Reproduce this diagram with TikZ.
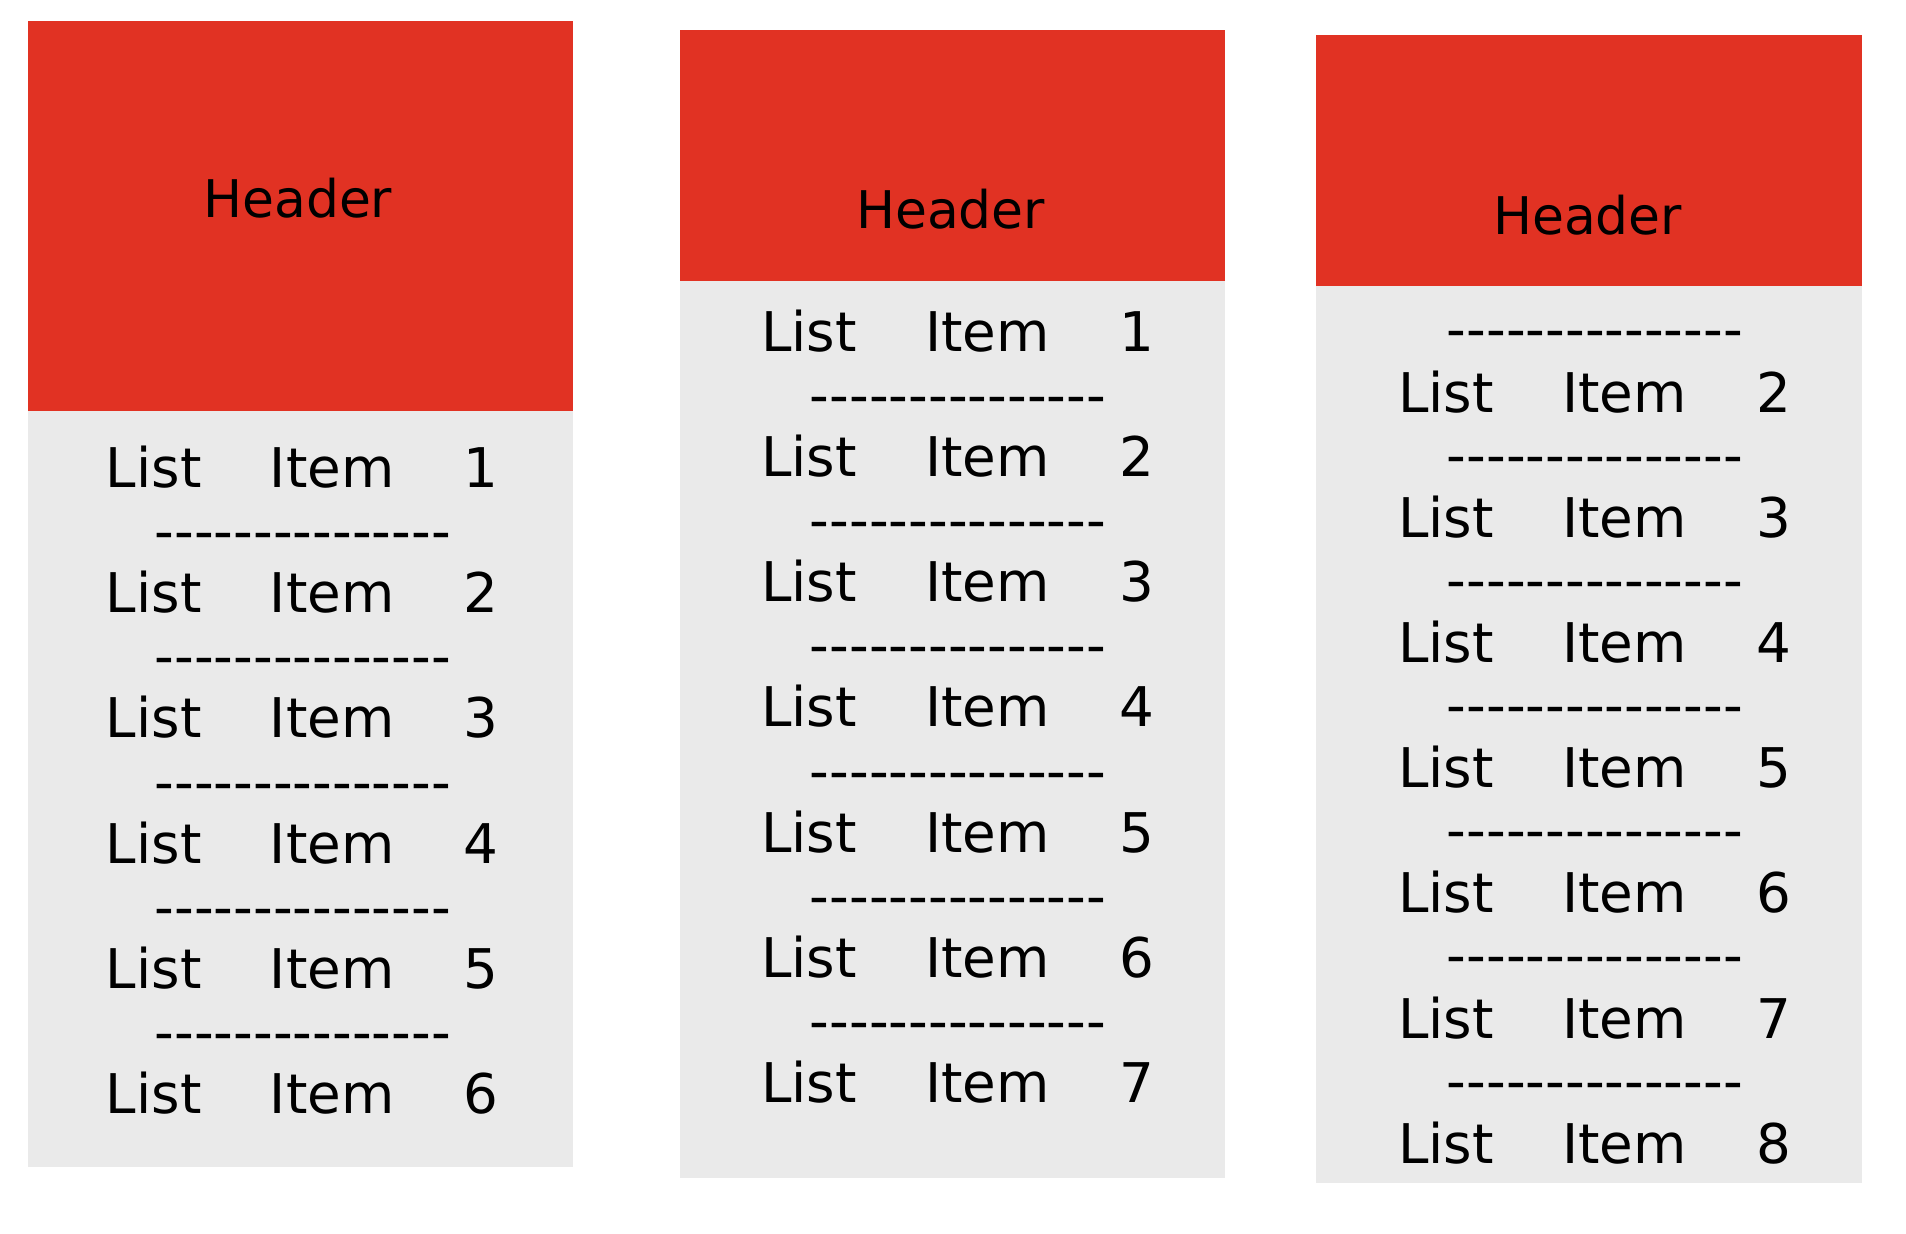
\documentclass[tikz,border=0pt]{standalone}
\usepackage{fontspec}
\setmainfont{DejaVu Sans}
\definecolor{hdrred}{RGB}{225,50,35}
\definecolor{bodygray}{RGB}{234,234,234}
\def\dh{-\kern0pt}
\newcommand\dashrow{\dh\dh\dh\dh\dh\dh\dh\dh\dh\dh\dh\dh\dh\dh\dh}
\newcommand\listitem[1]{List\hspace{1.25em}Item\hspace{1.27em}#1}
\tikzset{
  hdrtext/.style={font=\fontsize{42.7}{50}\selectfont, anchor=base, inner sep=0pt},
  itemtext/.style={font=\fontsize{45}{52}\selectfont, anchor=base west, inner sep=0pt},
  dashtext/.style={font=\fontsize{45}{52}\selectfont, anchor=base west, inner sep=0pt},
}
\begin{document}
\begin{tikzpicture}[x=1pt,y=-1pt]
\useasboundingbox (0,0) rectangle (1568,1015);
% panel 1
\fill[bodygray] (23,338) rectangle (471,960);
\fill[hdrred] (23,17) rectangle (471,338);
\node[hdrtext] (h1) at (245,179) {Header};
\foreach \i in {1,...,6}{
  \node[itemtext] (a\i) at (87,{401+103*(\i-1)}) {\listitem{\i}};
}
\foreach \i in {1,...,5}{
  \node[dashtext] (ad\i) at (127,{453+103*(\i-1)}) {\dashrow};
}
% panel 2
\fill[bodygray] (559,231) rectangle (1008,969);
\fill[hdrred] (559,25) rectangle (1008,231);
\node[hdrtext] (h2) at (782,188) {Header};
\foreach \i in {1,...,7}{
  \node[itemtext] (b\i) at (626,{289+103*(\i-1)}) {\listitem{\i}};
}
\foreach \i in {1,...,6}{
  \node[dashtext] (bd\i) at (666,{341+103*(\i-1)}) {\dashrow};
}
% panel 3
\fill[bodygray] (1083,235) rectangle (1532,973);
\fill[hdrred] (1083,29) rectangle (1532,235);
\node[hdrtext] (h3) at (1306,193) {Header};
\foreach \i in {2,...,8}{
  \node[itemtext] (c\i) at (1150,{339+103*(\i-2)}) {\listitem{\i}};
}
\foreach \i in {1,...,7}{
  \node[dashtext] (cd\i) at (1190,{287+103*(\i-1)}) {\dashrow};
}
\end{tikzpicture}
\end{document}
